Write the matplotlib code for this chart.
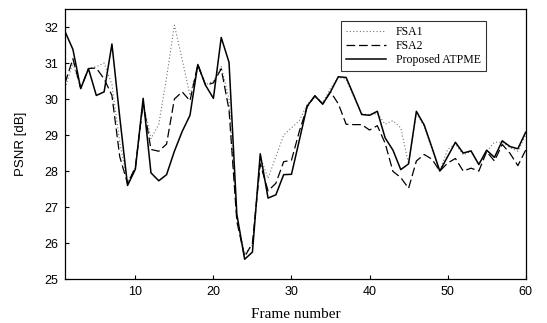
import matplotlib
matplotlib.use('Agg')
import matplotlib.pyplot as plt
import numpy as np

# numéros de trame
frames = np.arange(1, 61)

# PSNR (dB)
psnr_fsa1 = [30.30, 31.00, 30.30, 30.85, 30.90, 31.00, 30.40, 28.80, 27.70, 28.10,
             29.90, 28.90, 29.30, 30.60, 32.05, 31.10, 30.10, 30.90, 30.40, 30.50,
             30.90, 30.00, 26.70, 25.70, 25.95, 28.40, 27.80, 28.40, 29.00, 29.20,
             29.40, 29.85, 30.05, 29.90, 30.30, 30.60, 30.55, 30.05, 29.60, 29.55,
             29.60, 29.30, 29.40, 29.20, 28.20, 29.60, 29.25, 28.60, 28.00, 28.60,
             28.75, 28.45, 28.55, 28.20, 28.55, 28.80, 28.80, 28.65, 28.55, 29.00]

psnr_fsa2 = [30.45, 31.12, 30.30, 30.85, 30.86, 30.56, 30.10, 28.40, 27.65, 28.10,
             29.90, 28.60, 28.55, 28.75, 30.00, 30.20, 29.95, 30.96, 30.38, 30.45,
             30.84, 29.70, 26.60, 25.62, 26.00, 28.20, 27.45, 27.66, 28.26, 28.30,
             29.10, 29.78, 30.09, 29.86, 30.20, 29.87, 29.30, 29.29, 29.29, 29.14,
             29.26, 28.77, 27.99, 27.82, 27.52, 28.28, 28.46, 28.33, 28.00, 28.22,
             28.35, 28.00, 28.08, 28.00, 28.54, 28.28, 28.74, 28.49, 28.15, 28.58]

psnr_atpme = [31.87, 31.38, 30.29, 30.84, 30.10, 30.20, 31.53, 29.50, 27.60, 28.05,
              30.02, 27.95, 27.73, 27.90, 28.55, 29.10, 29.55, 30.96, 30.38, 30.02,
              31.71, 31.02, 26.80, 25.55, 25.75, 28.48, 27.25, 27.34, 27.90, 27.91,
              28.85, 29.80, 30.09, 29.86, 30.20, 30.62, 30.60, 30.09, 29.57, 29.55,
              29.66, 28.92, 28.58, 28.04, 28.20, 29.66, 29.28, 28.65, 28.00, 28.40,
              28.80, 28.50, 28.56, 28.18, 28.58, 28.38, 28.84, 28.68, 28.62, 29.08]

labels = ['FSA1', 'FSA2', 'Proposed ATPME']
xticks = [10, 20, 30, 40, 50, 60]
yticks = [25, 26, 27, 28, 29, 30, 31, 32]

fig = plt.figure(figsize=(5.47, 3.23), dpi=100)
ax = fig.add_axes([0.119, 0.136, 0.842, 0.836])

ax.plot(frames, psnr_fsa1, color='0.45', lw=0.8, ls=(0, (1, 2)), label=labels[0])
ax.plot(frames, psnr_fsa2, color='black', lw=0.9, ls=(0, (7, 3)), label=labels[1])
ax.plot(frames, psnr_atpme, color='black', lw=1.1, ls='-', label=labels[2])

ax.set_xlim(1, 60)
ax.set_ylim(25, 32.5)
ax.set_xticks(xticks)
ax.set_yticks(yticks)
ax.tick_params(direction='in', length=3, width=0.8, labelsize=9, pad=5)
for lab in ax.get_xticklabels() + ax.get_yticklabels():
    lab.set_family('Liberation Sans')

for sp in ax.spines.values():
    sp.set_linewidth(0.9)

ax.set_xlabel('Frame number', family='Liberation Serif', fontsize=11, labelpad=7)
ax.set_ylabel('PSNR [dB]', family='Liberation Sans', fontsize=9.5, labelpad=12)

leg = ax.legend(loc='upper right', bbox_to_anchor=(0.914, 0.956), borderaxespad=0,
                prop={'family': 'Liberation Serif', 'size': 8.5},
                frameon=True, fancybox=False, edgecolor='black',
                handlelength=3.4, borderpad=0.45, labelspacing=0.15)
leg.get_frame().set_linewidth(0.8)

fig.savefig('out.png', dpi=100)
